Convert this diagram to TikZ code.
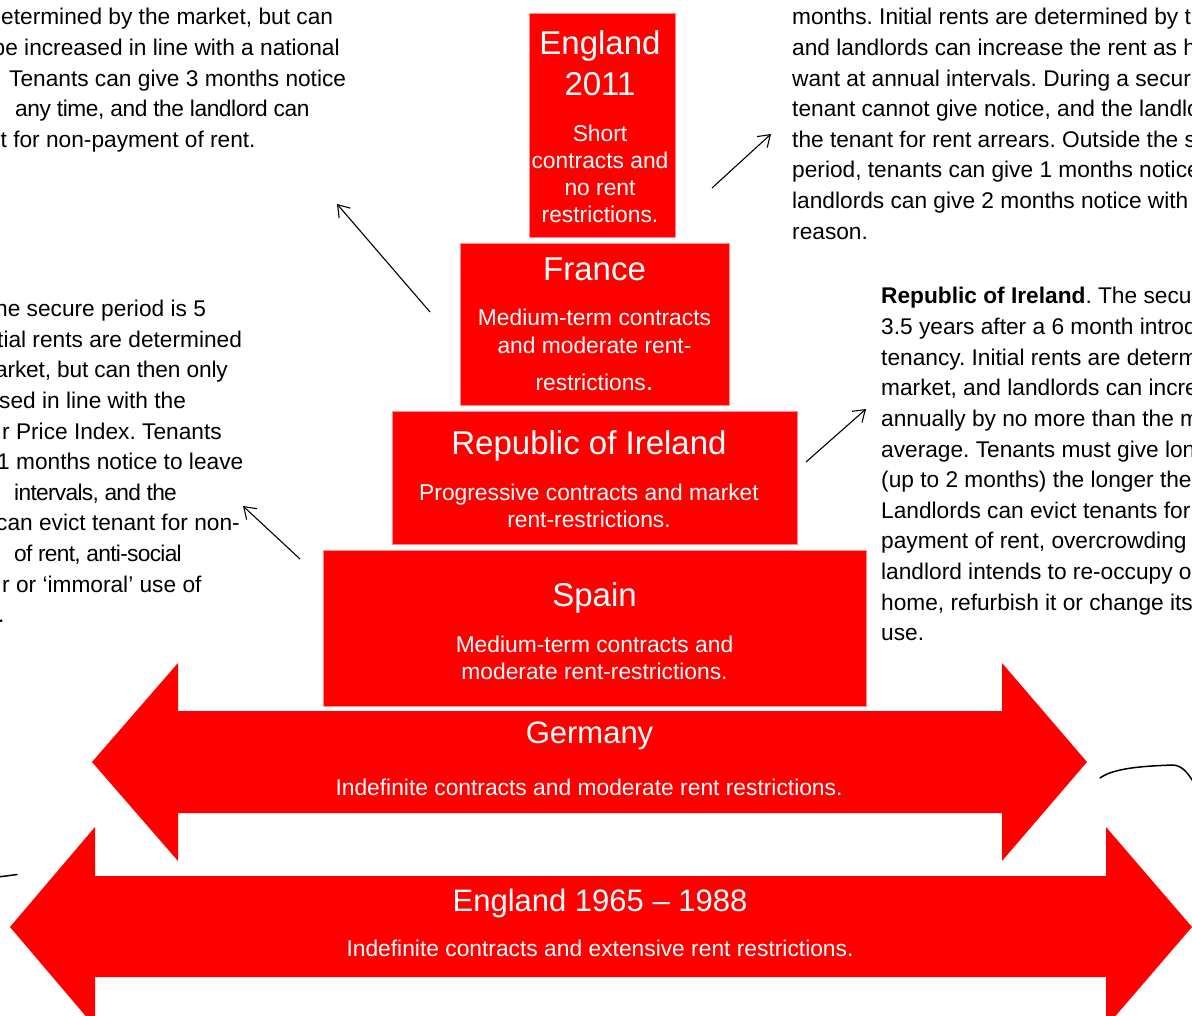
\documentclass[tikz,border=0pt]{standalone}
\usepackage{fontspec}
\setmainfont{Liberation Sans}
\frenchspacing
\usetikzlibrary{arrows.meta}
\definecolor{tierred}{RGB}{255,0,0}
\definecolor{tieredge}{RGB}{255,140,140}

\tikzset{
  tier/.style={fill=tierred, draw=tieredge, line width=0.8pt, inner sep=0pt,
               anchor=north west, rectangle},
  bandarrow/.style={fill=tierred},
  bigtitle/.style={text=white, font=\fontsize{33}{38}\selectfont, anchor=base, inner sep=0pt},
  bandtitle/.style={text=white, font=\fontsize{31}{36}\selectfont, anchor=base, inner sep=0pt},
  subline/.style={text=white, font=\fontsize{22.8}{27}\selectfont, anchor=base, inner sep=0pt},
  bodyline/.style={text=black, font=\fontsize{22.7}{30.6}\selectfont, anchor=base west, inner sep=0pt},
  tightline/.style={bodyline, font=\fontsize{22.7}{30.6}\selectfont\addfontfeature{LetterSpace=#1}},
  pointer/.style={draw=black, line width=1.1pt, -{Straight Barb[length=11pt,width=15pt]}},
  scribble/.style={draw=black, line width=1.5pt, line cap=round}
}

\begin{document}
\begin{tikzpicture}[x=1pt, y=-1pt]
\useasboundingbox (0,0) rectangle (1192,1016);

% ---- wide double-headed bands ----
\fill[bandarrow] (92,762) -- (178,663) -- (178,711) -- (1002,711) -- (1002,663)
  -- (1087,762) -- (1002,861) -- (1002,813) -- (178,813) -- (178,861) -- cycle;
\fill[bandarrow] (10,927) -- (95,827) -- (95,876) -- (1106,876) -- (1106,827)
  -- (1192,927) -- (1106,1027) -- (1106,977) -- (95,977) -- (95,1027) -- cycle;

% ---- stacked tiers ----
\node[tier, minimum width=146pt, minimum height=224pt] (eng11) at (529,13) {};
\node[tier, minimum width=269pt, minimum height=162pt] (france) at (460,243) {};
\node[tier, minimum width=405pt, minimum height=133pt] (ireland) at (392,411) {};
\node[tier, minimum width=543pt, minimum height=156pt] (spain) at (323,550) {};

% ---- tier labels ----
\node[bigtitle] (eng11-a) at (600,55) {England};
\node[bigtitle] (eng11-b) at (600,96) {2011};
\node[subline] (eng11-c) at (600,142) {Short};
\node[subline] (eng11-d) at (600,169) {contracts and};
\node[subline] (eng11-e) at (600,196) {no rent};
\node[subline] (eng11-f) at (600,223) {restrictions.};

\node[bigtitle] (fr-a) at (594.5,281) {France};
\node[subline] (fr-b) at (594.5,326) {Medium-term contracts};
\node[subline] (fr-c) at (594.5,354) {and moderate rent-};
\node[subline] (fr-d) at (594.5,391) {restrictions{\fontsize{27}{30}\selectfont.}};

\node[bigtitle] (ie-a) at (589,454) {Republic of Ireland};
\node[subline] (ie-b) at (589,500) {Progressive contracts and market};
\node[subline] (ie-c) at (589,527) {rent-restrictions.};

\node[bigtitle] (es-a) at (594.5,606) {Spain};
\node[subline] (es-b) at (594.5,652) {Medium-term contracts and};
\node[subline] (es-c) at (594.5,679) {moderate rent-restrictions.};

\node[bandtitle] (de-a) at (589.5,743) {Germany};
\node[subline] (de-b) at (589,795) {Indefinite contracts and moderate rent restrictions.};

\node[bandtitle] (en65-a) at (600,911) {England 1965 – 1988};
\node[subline] (en65-b) at (600,956) {Indefinite contracts and extensive rent restrictions.};

% ---- notes, upper left ----
\node[bodyline] (tl-1) at (1,25) {etermined by the market, but can};
\node[bodyline] (tl-2) at (-7.5,55.6) {be increased in line with a national};
\node[bodyline] (tl-3) at (9,86.2) {Tenants can give 3 months notice};
\node[tightline=-1.8] (tl-4) at (15,116.8) {any time, and the landlord can};
\node[bodyline] (tl-5) at (0.5,147.4) {t for non-payment of rent.};

% ---- notes, middle left ----
\node[bodyline] (ml-1) at (-5,316.7) {he secure period is 5};
\node[bodyline] (ml-2) at (-3,347.3) {tial rents are determined};
\node[tightline=-0.8] (ml-3) at (-5,377.9) {arket, but can then only};
\node[bodyline] (ml-4) at (-1,408.5) {sed in line with the};
\node[bodyline] (ml-5) at (2,439.1) {r Price Index. Tenants};
\node[bodyline] (ml-6) at (-3,469.7) {1 months notice to leave};
\node[tightline=-3] (ml-7) at (14,500.3) {intervals, and the};
\node[bodyline] (ml-8) at (-4,530.9) {can evict tenant for non-};
\node[tightline=-3] (ml-9) at (14,561.5) {of rent, anti-social};
\node[bodyline] (ml-10) at (2,592.1) {r or ‘immoral’ use of};
\node[bodyline] (ml-11) at (-2,622.7) {.};

% ---- notes, upper right ----
\foreach \s [count=\i from 0] in {
  {months. Initial rents are determined by t},
  {and landlords can increase the rent as h},
  {want at annual intervals. During a secur},
  {tenant cannot give notice, and the landlo},
  {the tenant for rent arrears. Outside the s},
  {period, tenants can give 1 months notice},
  {landlords can give 2 months notice with},
  {reason.}}
  \node[bodyline] (tr-\i) at ({792},{25+30.6*\i}) {\s};

% ---- notes, middle right ----
\foreach \s [count=\i from 0] in {
  {\textbf{Republic of Ireland}. The secu},
  {3.5 years after a 6 month introd},
  {tenancy. Initial rents are determ},
  {market, and landlords can incre},
  {annually by no more than the m},
  {average. Tenants must give lon},
  {(up to 2 months) the longer the},
  {Landlords can evict tenants for},
  {payment of rent, overcrowding},
  {landlord intends to re-occupy o},
  {home, refurbish it or change its},
  {use.}}
  \node[bodyline] (mr-\i) at ({881},{304+30.6*\i}) {\s};

% ---- pointers from the tiers to the notes ----
\coordinate (fr-out) at (430,312);
\coordinate (fr-note) at (337,204);
\coordinate (es-out) at (300,559);
\coordinate (es-note) at (243,506);
\coordinate (eng-out) at (712,188);
\coordinate (eng-note) at (771,134);
\coordinate (ie-out) at (806,462);
\coordinate (ie-note) at (866,409);
\draw[pointer] (fr-out) -- (fr-note);
\draw[pointer] (es-out) -- (es-note);
\draw[pointer] (eng-out) -- (eng-note);
\draw[pointer] (ie-out) -- (ie-note);

% ---- loose pen strokes ----
\draw[scribble] (1100,778) .. controls (1115,767) and (1150,766) .. (1172,765)
  .. controls (1182,765) and (1188,773) .. (1194,783);
\draw[scribble] (-2,877) .. controls (6,876) .. (17,874.5);
\end{tikzpicture}
\end{document}
